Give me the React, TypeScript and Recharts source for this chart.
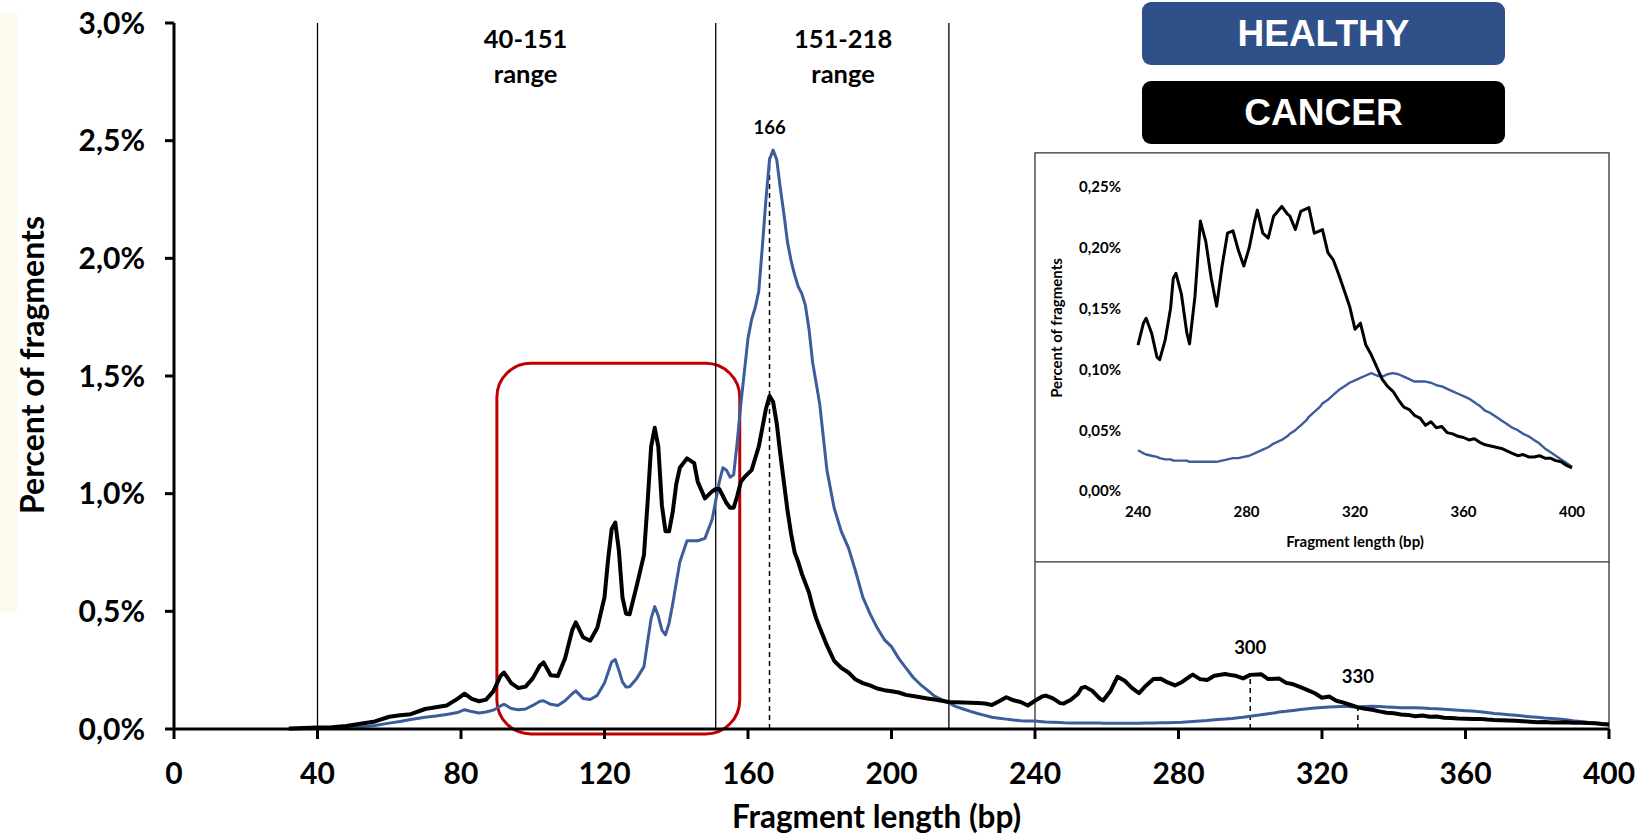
import { LineChart, Line, XAxis, YAxis, ReferenceLine, ReferenceArea, ReferenceDot } from "recharts";

// fragment length (bp)
const lengths = [
  32, 36, 40, 44, 48, 52, 56, 60, 63, 66, 70, 73, 76, 79, 81, 83, 85, 87, 89,
  91, 92, 94, 96, 98, 100, 102, 103, 105, 107, 109, 111, 112, 114, 116, 118, 120, 121, 122, 123, 124, 125, 126, 127,
  129, 131, 132, 133, 134, 135, 136, 137, 138, 139, 140, 141, 143, 145, 146, 148, 150, 151, 152, 153, 154, 155, 156, 157, 158, 159, 160,
  161, 162, 163, 164, 165, 166, 167, 168, 169, 170, 171, 172, 173, 174, 175, 176, 177, 178, 179, 180,
  182, 184, 186, 188, 190, 192, 194, 196, 198, 200, 202, 204, 206, 208, 210, 212, 214, 216, 218, 220, 222, 224, 226, 228, 230, 232, 234, 236, 238,
  240, 242, 243, 245, 247, 248, 250, 252, 253, 254, 256, 258, 259, 261, 263, 265, 267, 269, 271, 273, 275, 277, 279, 281, 283, 284, 286, 288, 290, 293,
  295, 296, 298, 300, 302, 303, 305, 307, 308, 310, 312, 314, 316, 318, 320, 322, 324, 326, 328, 330,
  332, 334, 336, 338, 340, 342, 344, 346, 348, 350, 352, 354, 356, 358, 360, 362, 364, 366, 368, 370,
  372, 374, 376, 378, 380, 382, 384, 386, 388, 390, 392, 394, 396, 398, 400,
];

// percent of fragments, healthy
const healthy = [
  0.0, 0.001, 0.002, 0.003, 0.006, 0.009, 0.015, 0.025, 0.032, 0.04, 0.05, 0.055, 0.062, 0.07, 0.082, 0.074, 0.068, 0.072, 0.08,
  0.098, 0.105, 0.087, 0.082, 0.085, 0.1, 0.118, 0.12, 0.105, 0.1, 0.12, 0.15, 0.162, 0.13, 0.125, 0.143, 0.195, 0.24, 0.285, 0.295, 0.25, 0.2, 0.178, 0.18,
  0.215, 0.265, 0.37, 0.47, 0.52, 0.48, 0.42, 0.4, 0.45, 0.53, 0.62, 0.71, 0.8, 0.8, 0.8, 0.81, 0.89, 0.97, 1.05, 1.11, 1.1, 1.07, 1.08, 1.22, 1.38, 1.52, 1.66,
  1.74, 1.79, 1.86, 2.05, 2.25, 2.42, 2.46, 2.42, 2.3, 2.19, 2.07, 1.99, 1.93, 1.88, 1.85, 1.8, 1.7, 1.56, 1.47, 1.38,
  1.1, 0.94, 0.84, 0.77, 0.67, 0.56, 0.49, 0.43, 0.38, 0.35, 0.3, 0.26, 0.22, 0.19, 0.165, 0.14, 0.125, 0.11, 0.095, 0.085, 0.075, 0.066, 0.058, 0.05, 0.046, 0.042, 0.038, 0.035, 0.034,
  0.0335, 0.031, 0.03, 0.029, 0.028, 0.027, 0.026, 0.026, 0.025, 0.025, 0.025, 0.025, 0.024, 0.024, 0.024, 0.024, 0.024, 0.024, 0.025, 0.026, 0.027, 0.027, 0.028, 0.029, 0.031, 0.032, 0.034, 0.036, 0.039, 0.042,
  0.045, 0.047, 0.05, 0.054, 0.058, 0.061, 0.065, 0.069, 0.072, 0.075, 0.079, 0.083, 0.086, 0.089, 0.091, 0.093, 0.095, 0.097, 0.095, 0.094,
  0.096, 0.097, 0.096, 0.094, 0.092, 0.09, 0.09, 0.09, 0.089, 0.087, 0.086, 0.084, 0.082, 0.08, 0.078, 0.076, 0.073, 0.07, 0.066, 0.064,
  0.061, 0.058, 0.055, 0.052, 0.05, 0.047, 0.045, 0.042, 0.039, 0.035, 0.032, 0.029, 0.026, 0.023, 0.02,
];

// percent of fragments, cancer
const cancer = [
  0.002, 0.004, 0.006, 0.007, 0.013, 0.022, 0.032, 0.052, 0.058, 0.063, 0.085, 0.092, 0.1, 0.128, 0.15, 0.128, 0.118, 0.125, 0.16,
  0.225, 0.24, 0.195, 0.174, 0.18, 0.215, 0.27, 0.283, 0.228, 0.225, 0.3, 0.42, 0.453, 0.39, 0.375, 0.43, 0.56, 0.72, 0.85, 0.877, 0.76, 0.56, 0.49, 0.488,
  0.61, 0.74, 0.96, 1.2, 1.28, 1.2, 0.95, 0.84, 0.84, 0.92, 1.04, 1.11, 1.15, 1.13, 1.05, 0.98, 1.01, 1.02, 1.02, 0.99, 0.96, 0.94, 0.94, 0.99, 1.05, 1.07, 1.085,
  1.1, 1.15, 1.2, 1.28, 1.36, 1.415, 1.39, 1.3, 1.17, 1.05, 0.93, 0.83, 0.75, 0.71, 0.66, 0.62, 0.58, 0.52, 0.47, 0.43,
  0.355, 0.29, 0.26, 0.24, 0.21, 0.195, 0.185, 0.172, 0.165, 0.16, 0.155, 0.145, 0.14, 0.135, 0.13, 0.125, 0.12, 0.115, 0.114, 0.113, 0.112, 0.11, 0.108, 0.102, 0.118, 0.135, 0.122, 0.115, 0.1,
  0.12, 0.138, 0.142, 0.13, 0.11, 0.108, 0.124, 0.15, 0.175, 0.179, 0.162, 0.13, 0.121, 0.16, 0.222, 0.205, 0.175, 0.152, 0.185, 0.212, 0.214, 0.198, 0.185, 0.2, 0.222, 0.231, 0.212, 0.208, 0.226, 0.234,
  0.228, 0.226, 0.215, 0.23, 0.232, 0.233, 0.212, 0.214, 0.215, 0.196, 0.19, 0.178, 0.165, 0.152, 0.133, 0.138, 0.12, 0.112, 0.102, 0.092,
  0.086, 0.082, 0.075, 0.069, 0.067, 0.062, 0.06, 0.054, 0.057, 0.052, 0.053, 0.048, 0.047, 0.045, 0.044, 0.042, 0.043, 0.04, 0.038, 0.037,
  0.036, 0.035, 0.033, 0.031, 0.029, 0.03, 0.028, 0.028, 0.029, 0.027, 0.027, 0.025, 0.024, 0.021, 0.019,
];

const xTicks = [0, 40, 80, 120, 160, 200, 240, 280, 320, 360, 400];
const yTicks = [0, 0.5, 1, 1.5, 2, 2.5, 3];
const insetXTicks = [240, 280, 320, 360, 400];
const insetYTicks = [0, 0.05, 0.1, 0.15, 0.2, 0.25];

const rangeBounds = [40, 151, 216];
const rangeLabels = [
  { text: "40-151", bp: 98, y: 2.861 },
  { text: "151-218", bp: 186.5, y: 2.861 },
];
const peaks = [
  { bp: 166, top: 2.446, labelY: 2.56 },
  { bp: 300, top: 0.23, labelY: 0.349 },
  { bp: 330, top: 0.092, labelY: 0.2235 },
];

const rows = lengths.map((bp, i) => ({ bp, healthy: healthy[i], cancer: cancer[i] }));
const insetRows = rows.filter((r) => r.bp >= 240);

const FONT = "Lato, 'Open Sans', sans-serif";
const BLUE = "#3d5c9b";

const pct1 = (v: number) => v.toFixed(1).replace(".", ",") + "%";
const pct2 = (v: number) => v.toFixed(2).replace(".", ",") + "%";

const XTitle = (props: any) => {
  const vb = props.viewBox;
  return (
    <text x={vb.x + vb.width / 2 - 15} y={816} textAnchor="middle" dominantBaseline="central"
      fontFamily={FONT} fontWeight={700} fontSize={31.5} fill="#000">
      Fragment length (bp)
    </text>
  );
};

const YTitle = (props: any) => {
  const vb = props.viewBox;
  const cx = vb.x + 31;
  const cy = vb.y + vb.height / 2 - 11;
  return (
    <text x={cx} y={cy} transform={`rotate(-90, ${cx}, ${cy})`} textAnchor="middle" dominantBaseline="central"
      fontFamily={FONT} fontWeight={700} fontSize={32} fill="#000">
      Percent of fragments
    </text>
  );
};

const InsetXTitle = (props: any) => {
  const vb = props.viewBox;
  return (
    <text x={vb.x + vb.width / 2} y={vb.y + 50} textAnchor="middle" dominantBaseline="central"
      fontFamily={FONT} fontWeight={700} fontSize={15} fill="#000">
      Fragment length (bp)
    </text>
  );
};

const InsetYTitle = (props: any) => {
  const vb = props.viewBox;
  const cx = vb.x + 20;
  const cy = vb.y + vb.height / 2 - 11;
  return (
    <text x={cx} y={cy} transform={`rotate(-90, ${cx}, ${cy})`} textAnchor="middle" dominantBaseline="central"
      fontFamily={FONT} fontWeight={700} fontSize={15} fill="#000">
      Percent of fragments
    </text>
  );
};

const rangeLabel = (text: string) => (props: any) => {
  const vb = props.viewBox;
  const cx = vb.x + (vb.width || 0) / 2;
  const cy = vb.y + (vb.height || 0) / 2;
  return (
    <text x={cx} y={cy} textAnchor="middle" fontFamily={FONT} fontWeight={700} fontSize={25.5} fill="#000">
      <tspan x={cx} dy={-8}>{text}</tspan>
      <tspan x={cx} dy={35}>range</tspan>
    </text>
  );
};

const peakLabel = (text: string) => (props: any) => {
  const vb = props.viewBox;
  const cx = vb.x + (vb.width || 0) / 2;
  const cy = vb.y + (vb.height || 0) / 2;
  return (
    <text x={cx} y={cy} textAnchor="middle" dominantBaseline="central" fontFamily={FONT} fontWeight={700} fontSize={18.5} fill="#000">
      {text}
    </text>
  );
};

const RoundBox = (props: any) => (
  <rect x={props.x} y={props.y} width={props.width} height={props.height} rx={34} ry={34}
    fill="none" stroke="#c00000" strokeWidth={3} />
);

const legendBox = (bg: string): React.CSSProperties => ({
  position: "absolute",
  left: 1142,
  width: 363,
  height: 63,
  background: bg,
  borderRadius: 9,
  color: "#fff",
  fontFamily: "'Liberation Sans', Arial, sans-serif",
  fontWeight: 700,
  fontSize: 37,
  display: "flex",
  alignItems: "center",
  justifyContent: "center",
});

export default function App() {
  return (
    <div style={{ position: "absolute", left: 0, top: 0, width: 1641, height: 836, background: "#fff" }}>
      <div style={{ position: "absolute", left: 0, top: 13, width: 17, height: 600, background: "#fdf9ef" }} />
      <div style={{ position: "absolute", left: 0, top: 0 }}>
        <LineChart width={1641} height={836} data={rows} margin={{ top: 23, right: 32, bottom: 0, left: 0 }}>
          <XAxis type="number" dataKey="bp" domain={[0, 400]} ticks={xTicks} interval={0} height={107}
            axisLine={{ stroke: "#000", strokeWidth: 3 }} tickLine={{ stroke: "#000", strokeWidth: 3 }}
            tickSize={10} tickMargin={24}
            tick={{ fill: "#000", fontSize: 30, fontWeight: 700, fontFamily: FONT }}
            label={XTitle} />
          <YAxis type="number" domain={[0, 3]} ticks={yTicks} interval={0} width={174}
            axisLine={{ stroke: "#000", strokeWidth: 3 }} tickLine={{ stroke: "#000", strokeWidth: 3 }}
            tickSize={9} tickMargin={20} tickFormatter={pct1}
            tick={{ fill: "#000", fontSize: 30, fontWeight: 700, fontFamily: FONT }}
            label={YTitle} />
          {rangeBounds.map((b) => (
            <ReferenceLine key={b} x={b} stroke="#000" strokeWidth={1.3} />
          ))}
          <ReferenceArea x1={240} x2={400} y1={0} y2={2.448} fill="none" fillOpacity={0}
            stroke="#333" strokeWidth={1.3} ifOverflow="visible" />
          <ReferenceLine segment={[{ x: 240, y: 0.71 }, { x: 400, y: 0.71 }]} stroke="#333" strokeWidth={1.3} />
          <ReferenceArea x1={90} x2={157.7} y1={-0.021} y2={1.554} ifOverflow="visible" shape={RoundBox} />
          {peaks.map((p) => (
            <ReferenceLine key={`d${p.bp}`} segment={[{ x: p.bp, y: 0 }, { x: p.bp, y: p.top }]}
              stroke="#000" strokeWidth={1.5} strokeDasharray="5 4" />
          ))}
          {peaks.map((p) => (
            <ReferenceDot key={`l${p.bp}`} x={p.bp} y={p.labelY} r={0} fill="none" stroke="none"
              label={peakLabel(String(p.bp))} />
          ))}
          {rangeLabels.map((r) => (
            <ReferenceDot key={r.text} x={r.bp} y={r.y} r={0} fill="none" stroke="none" label={rangeLabel(r.text)} />
          ))}
          <Line type="linear" dataKey="healthy" stroke={BLUE} strokeWidth={3} dot={false} activeDot={false}
            isAnimationActive={false} strokeLinejoin="round" />
          <Line type="linear" dataKey="cancer" stroke="#000" strokeWidth={4} dot={false} activeDot={false}
            isAnimationActive={false} strokeLinejoin="round" />
        </LineChart>
      </div>

      <div style={{ position: "absolute", left: 1036, top: 155, width: 571, height: 405, background: "#fff" }}>
        <LineChart width={571} height={405} data={insetRows} margin={{ top: 32, right: 35, bottom: 0, left: 0 }}>
          <XAxis type="number" dataKey="bp" domain={[240, 400]} ticks={insetXTicks} interval={0} height={69}
            axisLine={false} tickLine={false} tickSize={0} tickMargin={15}
            tick={{ fill: "#000", fontSize: 15, fontWeight: 700, fontFamily: FONT }}
            label={InsetXTitle} />
          <YAxis type="number" domain={[0, 0.25]} ticks={insetYTicks} interval={0} width={102}
            axisLine={false} tickLine={false} tickSize={0} tickMargin={17} tickFormatter={pct2}
            tick={{ fill: "#000", fontSize: 15, fontWeight: 700, fontFamily: FONT }}
            label={InsetYTitle} />
          <Line type="linear" dataKey="healthy" stroke={BLUE} strokeWidth={2.4} dot={false} activeDot={false}
            isAnimationActive={false} strokeLinejoin="round" />
          <Line type="linear" dataKey="cancer" stroke="#000" strokeWidth={3} dot={false} activeDot={false}
            isAnimationActive={false} strokeLinejoin="round" />
        </LineChart>
      </div>

      <div style={{ ...legendBox("#30508a"), top: 2 }}>HEALTHY</div>
      <div style={{ ...legendBox("#000"), top: 81 }}>CANCER</div>
    </div>
  );
}
